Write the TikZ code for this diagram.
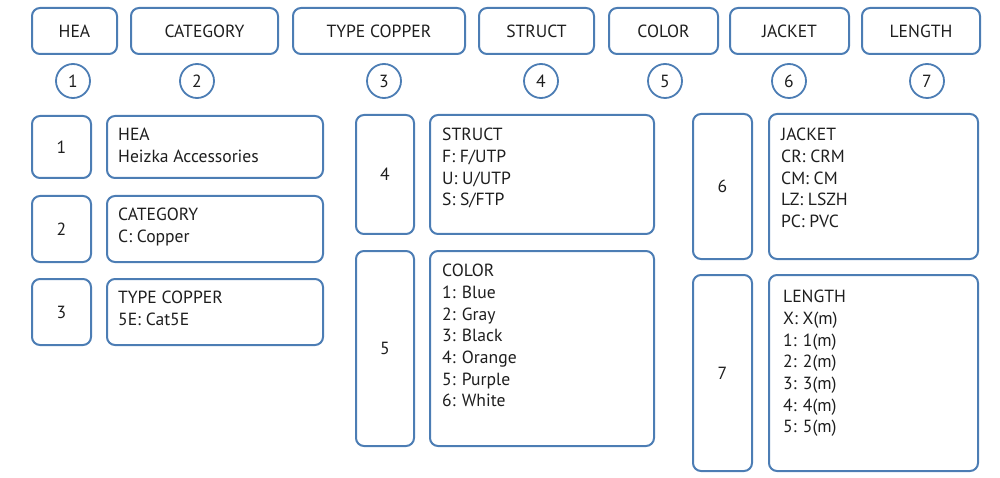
\documentclass[tikz,border=0pt]{standalone}
\usepackage{fontspec}
\setmainfont{PT Sans}
\usepackage{tikz}
\usepackage{xcolor}
\definecolor{codeblue}{RGB}{76,125,180}
\definecolor{codetext}{RGB}{30,30,30}
\tikzset{
  code/.style={draw=codeblue, line width=2pt, rounded corners=8pt, inner sep=0pt, anchor=north west, font=\codefont, text=codetext},
  idx/.style={draw=codeblue, line width=1.8pt, circle, minimum size=34pt, inner sep=0pt, font=\codefont, text=codetext},
  lines/.style={align=left, inner sep=0pt, anchor=north west, font=\codefont, text=codetext},
}
\newcommand{\codefont}{\fontsize{17.6}{21.7}\selectfont}

\begin{document}
\begin{tikzpicture}[x=1pt, y=-1pt]
			\useasboundingbox (0, 0) rectangle (1000, 478);
			% header row
			\node[code, minimum width=85pt, minimum height=46pt] (hea) at (31, 7) {HEA};
			\node[code, minimum width=147pt, minimum height=46pt] (category) at (130, 7) {CATEGORY};
			\node[code, minimum width=172pt, minimum height=46pt] (type) at (292, 7) {TYPE COPPER};
			\node[code, minimum width=115pt, minimum height=46pt] (struct) at (478, 7) {STRUCT};
			\node[code, minimum width=109pt, minimum height=46pt] (color) at (608, 7) {COLOR};
			\node[code, minimum width=119pt, minimum height=46pt] (jacket) at (729, 7) {JACKET};
			\node[code, minimum width=118pt, minimum height=46pt] (length) at (861, 7) {LENGTH};
			% position numbers
			\foreach \n/\x in {1/73, 2/197, 3/384, 4/541, 5/665, 6/789, 7/927}
				\node[idx] (pos\n) at (\x, 81) {\n};
			% first column
			\node[code, minimum width=59pt, minimum height=62pt] (k1) at (31, 115) {};
			\node[text=codetext] (k1n) at (k1.center) {\codefont 1};
			\node[code, minimum width=216pt, minimum height=62pt] (v1) at (106, 115) {};
			\node[lines] (v1t) at ([xshift=12pt, yshift=-13pt]v1.north west) {HEA\\Heizka Accessories};
			\node[code, minimum width=59pt, minimum height=66pt] (k2) at (31, 195) {};
			\node[text=codetext] (k2n) at (k2.center) {\codefont 2};
			\node[code, minimum width=216pt, minimum height=66pt] (v2) at (106, 195) {};
			\node[lines] (v2t) at ([xshift=12pt, yshift=-13pt]v2.north west) {CATEGORY\\C: Copper};
			\node[code, minimum width=59pt, minimum height=66pt] (k3) at (31, 278) {};
			\node[text=codetext] (k3n) at (k3.center) {\codefont 3};
			\node[code, minimum width=216pt, minimum height=66pt] (v3) at (106, 278) {};
			\node[lines] (v3t) at ([xshift=12pt, yshift=-13pt]v3.north west) {TYPE COPPER\\5E: Cat5E};
			% second column
			\node[code, minimum width=58pt, minimum height=119pt] (k4) at (355, 114) {};
			\node[text=codetext] (k4n) at (k4.center) {\codefont 4};
			\node[code, minimum width=224pt, minimum height=119pt] (v4) at (429, 114) {};
			\node[lines] (v4t) at ([xshift=13pt, yshift=-14pt]v4.north west) {STRUCT\\F: F/UTP\\U: U/UTP\\S: S/FTP};
			\node[code, minimum width=58pt, minimum height=195pt] (k5) at (355, 250) {};
			\node[text=codetext] (k5n) at (k5.center) {\codefont 5};
			\node[code, minimum width=224pt, minimum height=195pt] (v5) at (429, 250) {};
			\node[lines] (v5t) at ([xshift=13pt, yshift=-14pt]v5.north west) {COLOR\\1: Blue\\2: Gray\\3: Black\\4: Orange\\5: Purple\\6: White};
			% third column
			\node[code, minimum width=59pt, minimum height=145pt] (k6) at (692, 113) {};
			\node[text=codetext] (k6n) at (k6.center) {\codefont 6};
			\node[code, minimum width=209pt, minimum height=145pt] (v6) at (768, 113) {};
			\node[lines] (v6t) at ([xshift=13pt, yshift=-15pt]v6.north west) {JACKET\\CR: CRM\\CM: CM\\LZ: LSZH\\PC: PVC};
			\node[code, minimum width=59pt, minimum height=196pt] (k7) at (692, 274) {};
			\node[text=codetext] (k7n) at (k7.center) {\codefont 7};
			\node[code, minimum width=209pt, minimum height=196pt] (v7) at (768, 274) {};
			\node[lines] (v7t) at ([xshift=15pt, yshift=-16pt]v7.north west) {LENGTH\\X: X(m)\\1: 1(m)\\2: 2(m)\\3: 3(m)\\4: 4(m)\\5: 5(m)};
		\end{tikzpicture}
\end{document}
